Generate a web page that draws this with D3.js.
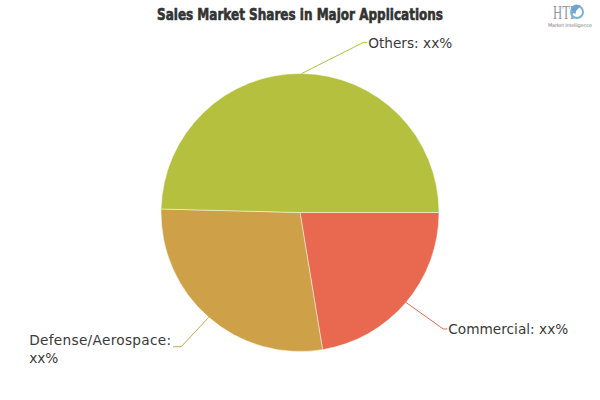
<!DOCTYPE html>
<html>
<head>
<meta charset="utf-8">
<script src="https://cdn.jsdelivr.net/npm/d3@7"></script>
<style>
  html, body { margin: 0; padding: 0; background: #ffffff; }
  svg { display: block; }
</style>
</head>
<body>
<svg id="chart" width="600" height="400"></svg>
<script>
// ---- data ----
const categories = ["Commercial", "Defense/Aerospace", "Others"];
const shares = [22.4, 28.0, 49.6];
const labelTexts = ["Commercial: xx%", "Defense/Aerospace: xx%", "Others: xx%"];
const colors = ["#e8694f", "#cea047", "#b4c03e"];
const title = "Sales Market Shares in Major Applications";

// ---- layout ----
const W = 600, H = 400;
const cx = 300, cy = 212.5, R = 139;
const svg = d3.select("#chart");

svg.append("text")
  .attr("x", 300).attr("y", 20)
  .attr("text-anchor", "middle")
  .attr("font-family", "'Liberation Sans Narrow', 'DejaVu Sans Condensed', sans-serif")
  .attr("font-weight", "bold")
  .attr("font-size", 16)
  .attr("fill", "#333")
  .attr("stroke", "#333")
  .attr("stroke-width", 0.6)
  .attr("textLength", 286)
  .attr("lengthAdjust", "spacingAndGlyphs")
  .text(title);

// logo
const logo = svg.append("g").attr("opacity", 0.75);
logo.append("text").attr("x", 553).attr("y", 19)
  .attr("font-family", "'Liberation Serif', serif").attr("font-size", 19)
  .attr("fill", "#6f7680").attr("textLength", 24).attr("lengthAdjust", "spacingAndGlyphs").text("HTF");
logo.append("circle").attr("cx", 577).attr("cy", 12).attr("r", 6)
  .attr("fill", "none").attr("stroke", "#4a9bd1").attr("stroke-width", 2);
logo.append("path").attr("d", "M571,8 Q575,2 581,6 Q577,9 574,14 Z").attr("fill", "#3b86c0");
logo.append("text").attr("x", 548).attr("y", 27)
  .attr("font-family", "'DejaVu Sans', sans-serif").attr("font-size", 5)
  .attr("fill", "#555").attr("textLength", 44).text("Market Intelligence");

const pie = d3.pie().sort(null).value(d => d)
  .startAngle(Math.PI / 2).endAngle(Math.PI / 2 + 2 * Math.PI);
const arcs = pie(shares);
const arc = d3.arc().innerRadius(0).outerRadius(R);

const g = svg.append("g").attr("transform", `translate(${cx},${cy})`);
g.selectAll("path.slice").data(arcs).enter().append("path")
  .attr("class", "slice")
  .attr("d", arc)
  .attr("fill", (d, i) => colors[i])
  .attr("stroke", "#ffffff")
  .attr("stroke-width", 0.8)
  .attr("stroke-opacity", 0.6);

// label placement (radial distance of elbow and horizontal shift per slice)
const labelLayout = [
  { rad: R + 41, dx: 6 },    // Commercial
  { rad: R + 39, dx: -2 },   // Defense
  { rad: R + 31, dx: 61 }    // Others
];

const font = "'DejaVu Sans', Verdana, sans-serif";
arcs.forEach((a, i) => {
  const mid = (a.startAngle + a.endAngle) / 2;
  const sx = R * Math.sin(mid), sy = -R * Math.cos(mid);
  const L = labelLayout[i];
  const right = Math.sin(mid) >= 0;
  const ex = L.rad * Math.sin(mid) + L.dx, ey = -L.rad * Math.cos(mid);
  const tx = ex + (right ? 4 : -8);
  g.append("polyline")
    .attr("points", `${sx},${sy} ${ex},${ey} ${tx},${ey}`)
    .attr("fill", "none")
    .attr("stroke", colors[i])
    .attr("stroke-width", 1);
  const t = g.append("text")
    .attr("font-family", font)
    .attr("font-size", 13.7)
    .attr("fill", "#3a3a3a");
  if (right) {
    t.attr("x", tx + 1).attr("y", ey + 5).text(labelTexts[i]);
  } else {
    const first = labelTexts[i].slice(0, labelTexts[i].lastIndexOf(" "));
    const second = labelTexts[i].slice(labelTexts[i].lastIndexOf(" ") + 1);
    const t1 = t.append("tspan").text(first);
    const w = Math.max(t1.node().getComputedTextLength(), 142);
    t1.attr("textLength", w).attr("lengthAdjust", "spacing");
    const x0 = tx - 2 - w;
    t1.attr("x", x0).attr("y", ey - 2);
    t.append("tspan").attr("x", x0).attr("y", ey + 16).text(second);
  }
});
</script>
</body>
</html>
